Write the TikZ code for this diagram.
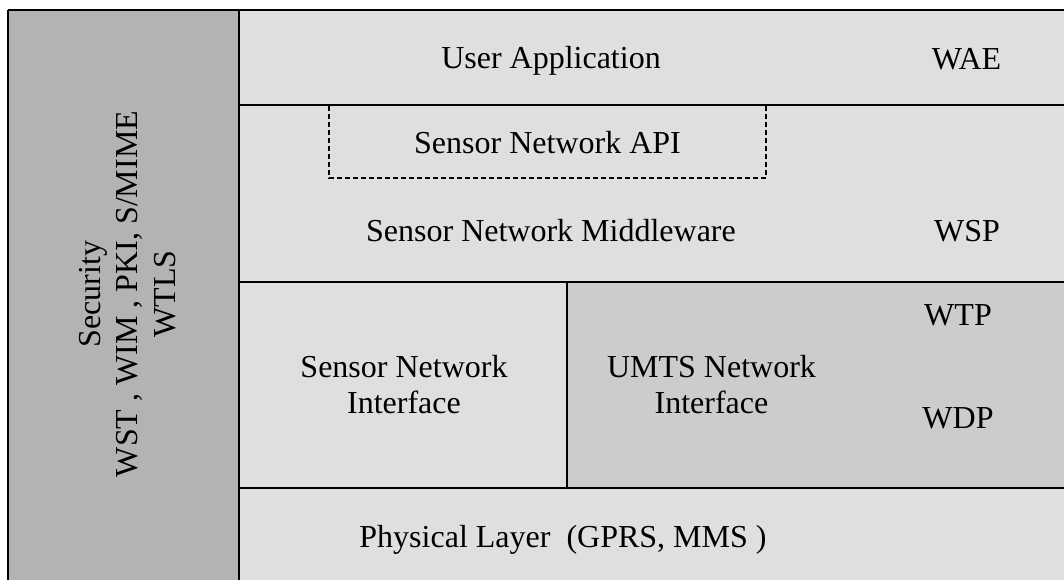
\documentclass[tikz,border=0pt]{standalone}
\usepackage{fontspec}
\setmainfont{Liberation Serif}
\definecolor{lightg}{HTML}{DFDFDF}
\definecolor{midg}{HTML}{CCCCCC}
\definecolor{darkg}{HTML}{B3B3B3}
\begin{document}
\begin{tikzpicture}[x=1pt,y=-1pt,
  lbl/.style={font=\fontsize{32}{36}\selectfont, align=center, inner sep=0pt, anchor=base},
  rule/.style={line width=2.5pt},
  thinrule/.style={line width=2pt},
  apibox/.style={dashed, line width=1.6pt, dash pattern=on 5pt off 3pt}]
\useasboundingbox (0,0) rectangle (1064,579);
\clip (0,0) rectangle (1064,579);
\fill[white] (0,0) rectangle (1064,579);
\fill[lightg] (239,10) rectangle (1070,590);
\fill[midg] (567,282) rectangle (1070,488);
\fill[darkg] (8,10) rectangle (239,590);
\draw[rule] (8,10) -- (1070,10);
\draw[rule] (8,10) -- (8,590);
\draw[thinrule] (239,10) -- (239,590);
\draw[rule] (239,105) -- (1070,105);
\draw[rule] (239,282) -- (1070,282);
\draw[rule] (239,488) -- (1070,488);
\draw[thinrule] (567,282) -- (567,488);
\draw[apibox] (329,106) -- (329,178) -- (766,178) -- (766,106);
\node[lbl] (ua) at (551,68.5) {User Application};
\node[lbl] (wae) at (966.5,69.3) {WAE};
\node[lbl] (api) at (547.5,153.3) {Sensor Network API};
\node[lbl] (mw) at (551,241.7) {Sensor Network Middleware};
\node[lbl] (wsp) at (967,241.7) {WSP};
\node[lbl] (sni) at (404,413.3) {Sensor Network\\Interface};
\node[lbl] (umts) at (711.5,413.3) {UMTS Network\\Interface};
\node[lbl] (wtp) at (958,325) {WTP};
\node[lbl] (wdp) at (958,428) {WDP};
\node[lbl] (phy) at (563,547.3) {Physical Layer\ \ (GPRS, MMS )};
\node[lbl, rotate=90, font=\fontsize{32}{37.5}\selectfont] (sec) at (175,294) {Security\\WST , WIM , PKI, S/MIME\\WTLS};
\end{tikzpicture}
\end{document}
